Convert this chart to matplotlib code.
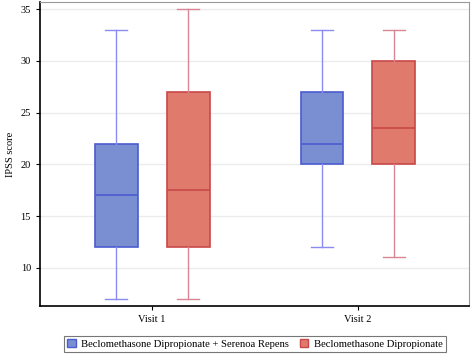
import matplotlib
matplotlib.use("Agg")
import matplotlib.pyplot as plt
from matplotlib.patches import Patch

# data
visits = ["Visit 1", "Visit 2"]
groups = ["Beclomethasone Dipropionate + Serenoa Repens", "Beclomethasone Dipropionate"]
# whislo, q1, med, q3, whishi
combo_stats = [(7, 12, 17, 22, 33), (12, 20, 22, 27, 33)]
mono_stats = [(7, 12, 17.5, 27, 35), (11, 20, 23.5, 30, 33)]

fills = ["#7a8fd2", "#e07a6c"]
edges = ["#4a5cd0", "#c94848"]
whisk = ["#8c8cf0", "#d98595"]

plt.rcParams["font.family"] = ["Liberation Serif", "DejaVu Serif"]
plt.rcParams["font.size"] = 7.5

fig = plt.figure(figsize=(4.72, 3.54), dpi=100)
ax = fig.add_axes([40 / 472, 1 - 306 / 354, 429 / 472, 304 / 354])

offset = 36 / 206
width = 43 / 206
for g, stats in enumerate([combo_stats, mono_stats]):
    bxp = []
    for s in stats:
        bxp.append({"whislo": s[0], "q1": s[1], "med": s[2], "q3": s[3], "whishi": s[4], "fliers": []})
    pos = [i + (g * 2 - 1) * offset for i in range(len(visits))]
    ax.bxp(bxp, positions=pos, widths=width, patch_artist=True, showfliers=False,
           boxprops=dict(facecolor=fills[g], edgecolor=edges[g], linewidth=1.2),
           medianprops=dict(color=edges[g], linewidth=1.2),
           whiskerprops=dict(color=whisk[g], linewidth=1.0),
           capprops=dict(color=whisk[g], linewidth=1.0),
           capwidths=width * 0.5, manage_ticks=False)

ax.set_xlim(-0.544, 1.539)
ax.set_ylim(6.3, 35.7)
ax.set_xticks(range(len(visits)))
ax.set_xticklabels(visits)
ax.set_yticks([10, 15, 20, 25, 30, 35])
ax.set_ylabel("IPSS score", labelpad=4)
ax.yaxis.grid(True, color="#ececec", linewidth=1.0)
ax.set_axisbelow(True)
ax.tick_params(length=3, width=0.8, color="black")
ax.spines["left"].set_color("black")
ax.spines["bottom"].set_color("black")
ax.spines["left"].set_linewidth(1.2)
ax.spines["bottom"].set_linewidth(1.2)
ax.spines["top"].set_color("#999999")
ax.spines["right"].set_color("#999999")

handles = [Patch(facecolor=fills[i], edgecolor=edges[i], label=groups[i]) for i in range(2)]
leg = fig.legend(handles=handles, loc="center", bbox_to_anchor=(255 / 472, 1 - 344 / 354), ncol=2,
                 frameon=True, fancybox=False, handlelength=0.8, handleheight=0.8,
                 handletextpad=0.5, columnspacing=1.0, borderpad=0.3, fontsize=7.7)
leg.get_frame().set_edgecolor("#555555")
leg.get_frame().set_linewidth(0.8)

fig.savefig("out.png", dpi=100)
